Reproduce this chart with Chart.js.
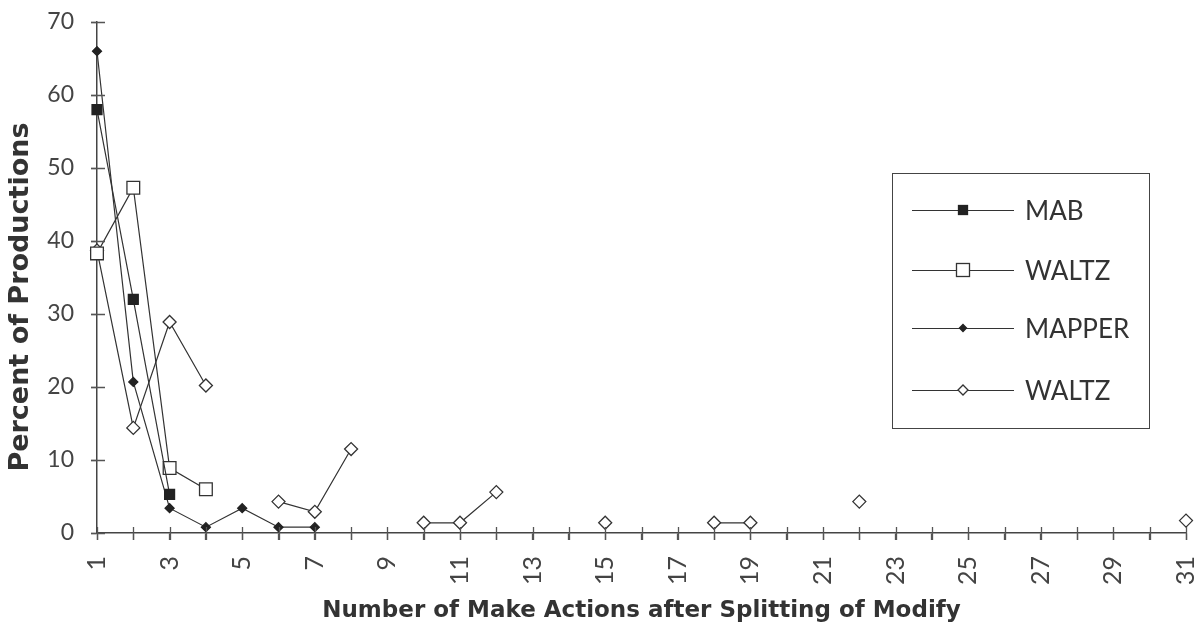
<!DOCTYPE html>
<html><head><meta charset="utf-8">
<script src="https://cdn.jsdelivr.net/npm/chart.js@4/dist/chart.umd.min.js"></script>
<style>
html,body{margin:0;padding:0;background:#fff;}
#wrap{position:relative;width:1202px;height:633px;overflow:hidden;}
#legend{position:absolute;left:892px;top:173px;width:258px;height:256px;border:1.5px solid #444;box-sizing:border-box;font-family:Lato,"Open Sans",sans-serif;font-size:26px;color:#333;}
.row{position:absolute;left:0;height:30px;display:flex;align-items:center;white-space:nowrap;}
.row svg{display:block;}
.row span{margin-left:11px;}
</style></head><body>
<div id="wrap"><canvas id="c" width="1202" height="633"></canvas><div id="legend"></div></div>
<script>
const categories = ['1','2','3','4','5','6','7','8','9','10','11','12','13','14','15','16','17','18','19','20','21','22','23','24','25','26','27','28','29','30','31'];
const yTicks = [0,10,20,30,40,50,60,70];
const seriesNames = ['MAB','WALTZ','MAPPER','WALTZ'];
const mabValues = [58, 32, 5.3];
const waltzValues = [38.3, 47.3, 8.9, 6.0];
const mapperValues = [66, 20.7, 3.4, 0.8, 3.4, 0.8, 0.8];
const waltz2Values = [38.7, 14.4, 28.9, 20.2, null, 4.3, 2.9, 11.5, null, 1.4, 1.4, 5.6, null, null, 1.4, null, null, 1.4, 1.4, null, null, 4.3, null, null, null, null, null, null, null, null, 1.7];
const xTitle = 'Number of Make Actions after Splitting of Modify';
const yTitle = 'Percent of Productions';

const LINE = '#333';
const TICK = '#555';
const styles = [
  {pointStyle:'rect', radius:7, fill:'#222', border:'#222', lr:4.5},
  {pointStyle:'rect', radius:9, fill:'#fff', border:'#333', lr:6.5},
  {pointStyle:'rectRot', radius:4.5, fill:'#222', border:'#222', lr:3.5},
  {pointStyle:'rectRot', radius:6.5, fill:'#fff', border:'#333', lr:5}
];
const allValues = [mabValues, waltzValues, mapperValues, waltz2Values];

const datasets = allValues.map((vals, i) => ({
  label: seriesNames[i],
  data: vals,
  borderColor: LINE,
  borderWidth: 1.2,
  pointStyle: styles[i].pointStyle,
  pointRadius: styles[i].radius,
  pointHoverRadius: styles[i].radius,
  pointBackgroundColor: styles[i].fill,
  pointBorderColor: styles[i].border,
  pointBorderWidth: 1.3,
  spanGaps: false,
  tension: 0,
  fill: false
}));

const crossTicks = {
  id: 'crossTicks',
  afterDraw(chart) {
    const ctx = chart.ctx, xs = chart.scales.x, ys = chart.scales.y;
    const a = chart.chartArea;
    ctx.save();
    ctx.strokeStyle = TICK;
    ctx.lineWidth = 1.3;
    ctx.beginPath();
    xs.ticks.forEach((t, i) => { const px = Math.round(xs.getPixelForTick(i)) + 0.5; ctx.moveTo(px, a.bottom - 6); ctx.lineTo(px, a.bottom + 7); });
    ys.ticks.forEach((t, i) => { const py = Math.round(ys.getPixelForTick(i)) + 0.5; ctx.moveTo(a.left - 6, py); ctx.lineTo(a.left + 8, py); });
    ctx.stroke();
    ctx.font = 'bold 27px "DejaVu Sans", sans-serif';
    ctx.fillStyle = '#333';
    ctx.textAlign = 'center';
    ctx.textBaseline = 'middle';
    ctx.translate(21, 297);
    ctx.rotate(-Math.PI / 2);
    ctx.fillText(yTitle, 0, 0);
    ctx.restore();
  }
};

new Chart(document.getElementById('c'), {
  type: 'line',
  data: { labels: categories, datasets },
  options: {
    responsive: false,
    animation: false,
    devicePixelRatio: 1,
    layout: { padding: { top: 22, right: 16, left: 0, bottom: 0 } },
    plugins: { legend: { display: false }, tooltip: { enabled: false } },
    scales: {
      x: {
        type: 'category',
        offset: false,
        afterFit(s) { s.height = 100; s.paddingRight = 0; s.paddingLeft = 0; },
        border: { color: '#444', width: 1.5 },
        grid: { drawOnChartArea: false, drawTicks: true, tickLength: 7, tickColor: TICK, tickWidth: 1.3 },
        ticks: {
          autoSkip: false, minRotation: 90, maxRotation: 90, padding: 16,
          color: '#444', font: { family: 'Lato, "Open Sans", sans-serif', size: 25 },
          callback(v, i) { return i % 2 === 0 ? this.getLabelForValue(v) : ''; }
        },
        title: { display: true, text: xTitle, color: '#333', padding: { top: 0, bottom: 8 },
                 font: { family: '"DejaVu Sans", sans-serif', size: 23, weight: 'bold' } }
      },
      y: {
        min: yTicks[0], max: yTicks[yTicks.length - 1],
        afterFit(s) { s.width = 97; s.paddingTop = 0; s.paddingBottom = 0; },
        afterBuildTicks(s) { s.ticks = yTicks.map(v => ({ value: v })); },
        border: { color: '#444', width: 1.5 },
        grid: { drawOnChartArea: false, drawTicks: true, tickLength: 6, tickColor: TICK, tickWidth: 1.3 },
        ticks: { padding: 17, color: '#444', font: { family: 'Lato, "Open Sans", sans-serif', size: 23 } },
        title: { display: false }
      }
    }
  },
  plugins: [crossTicks]
});

// HTML legend built from series names/styles
const legend = document.getElementById('legend');
const rowCenters = [36, 96, 154, 216];
seriesNames.forEach((name, i) => {
  const st = styles[i];
  const r = st.lr;
  let marker;
  if (st.pointStyle === 'rect') {
    marker = `<rect x="${51 - r}" y="${15 - r}" width="${2 * r}" height="${2 * r}" fill="${st.fill}" stroke="${st.border}" stroke-width="1.3"/>`;
  } else {
    marker = `<polygon points="${51 - r},15 51,${15 - r} ${51 + r},15 51,${15 + r}" fill="${st.fill}" stroke="${st.border}" stroke-width="1.3"/>`;
  }
  const row = document.createElement('div');
  row.className = 'row';
  row.style.top = (rowCenters[i] - 15) + 'px';
  row.style.left = '19px';
  row.innerHTML = `<svg width="102" height="30"><line x1="0" y1="15.5" x2="102" y2="15.5" stroke="${LINE}" stroke-width="1.2"/>${marker}</svg><span>${name}</span>`;
  legend.appendChild(row);
});
</script>
</body></html>
